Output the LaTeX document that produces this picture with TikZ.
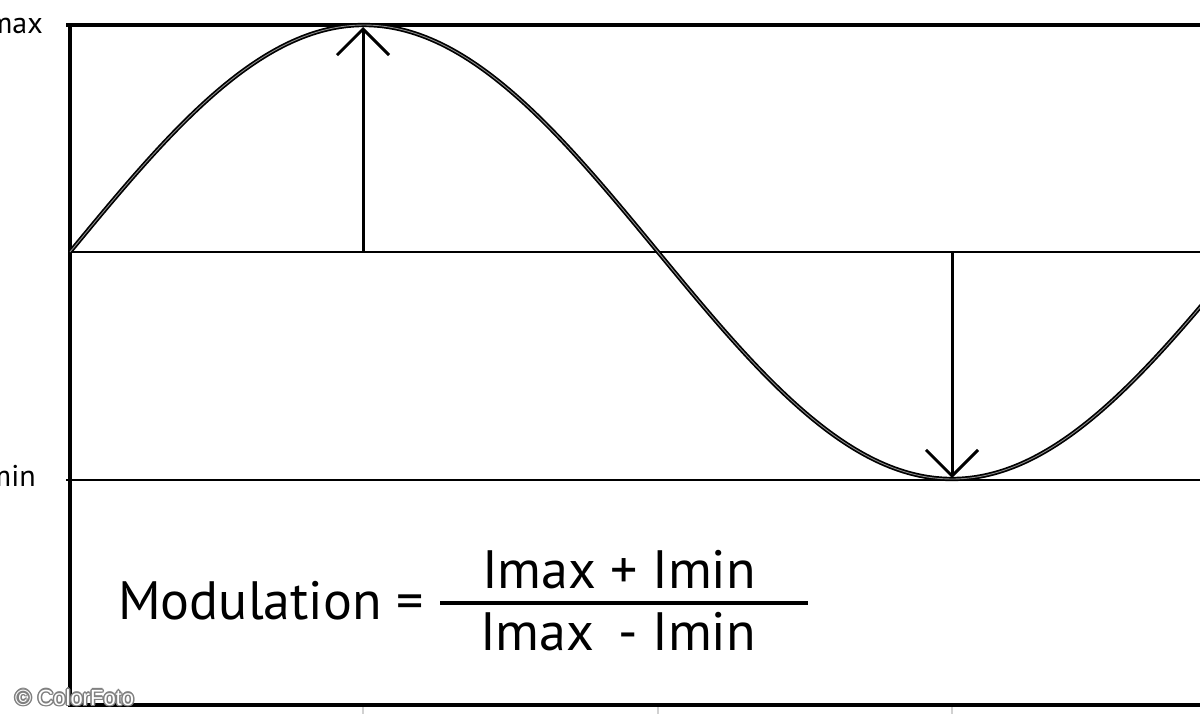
\documentclass[tikz,border=0pt]{standalone}
\usepackage{fontspec}
\setmainfont{PT Sans}
\newfontfamily\wmfont{Liberation Sans}
\usetikzlibrary{arrows.meta}
\begin{document}
\begin{tikzpicture}[x=1pt,y=-1pt,
  frame/.style={line width=3.5pt},
  level/.style={line width=1.8pt},
  wave/.style={draw=black, double=black!45, double distance=0.9pt, line width=1.7pt},
  marker/.style={line width=3pt, -{Straight Barb[length=26pt,width=52pt,line width=3pt]}},
  lbl/.style={font=\fontsize{30}{32}\selectfont, anchor=base east, inner sep=0pt},
  formula/.style={font=\fontsize{54}{58}\selectfont, inner sep=0pt, anchor=base},
  wm/.style={font=\fontsize{22}{24}\selectfont\wmfont, anchor=base west, inner sep=0pt},
  tick/.style={line width=2pt, black!18}]
\useasboundingbox (0,0) rectangle (1200,720);
\fill[white] (0,0) rectangle (1200,720);
% coordinates
\coordinate (tl) at (70,25);
\coordinate (tr) at (1202,25);
\coordinate (bl) at (70,705);
\coordinate (br) at (1202,705);
\coordinate (ml) at (70,252);
\coordinate (mr) at (1202,252);
\coordinate (nl) at (66,480);
\coordinate (nr) at (1202,480);
\coordinate (upbase) at (363,252);
\coordinate (uptip) at (363,27);
\coordinate (dnbase) at (952,252);
\coordinate (dntip) at (952,478);
% ticks
\foreach \xx in {363,658,952} \draw[tick] (\xx,707) -- (\xx,714);
% frame
\draw[level] (ml) -- (mr);
\draw[level] (nl) -- (nr);
\draw[frame] (66,25) -- (tr);
\draw[frame] (70,23) -- (bl) -- (br);
% wave
\draw[wave] plot[domain=70:1202, samples=240] (\x, {252 - 227*sin(0.306122*(\x-70))});
% arrows
\draw[marker] (upbase) -- (uptip);
\draw[marker] (dnbase) -- (dntip);
% labels
\node[lbl] (lmax) at (43,33) {Imax};
\node[lbl] (lmin) at (36,486) {Imin};
% formula
\node[formula, anchor=base west] (mod) at (118,619) {Modulation};
\node[formula] (eq) at (410,619) {=};
\coordinate (barl) at (440,603);
\coordinate (barr) at (808,603);
\draw[line width=3.5pt] (barl) -- (barr);
\node[formula] (num) at (619,588) {Imax + Imin};
\node[formula] (den) at (618,650) {Imax\hspace{0.45em}- Imin};
% watermark
\foreach \dx/\dy in {-1.5/0,1.5/0,0/-1.5,0/1.5,-1/-1,1/1,-1/1,1/-1}
  \node[wm, text=black!50] at (15+\dx,705+\dy) {\textcopyright\ ColorFoto};
\node[wm, text=white] (wmk) at (15,705) {\textcopyright\ ColorFoto};
\end{tikzpicture}
\end{document}
